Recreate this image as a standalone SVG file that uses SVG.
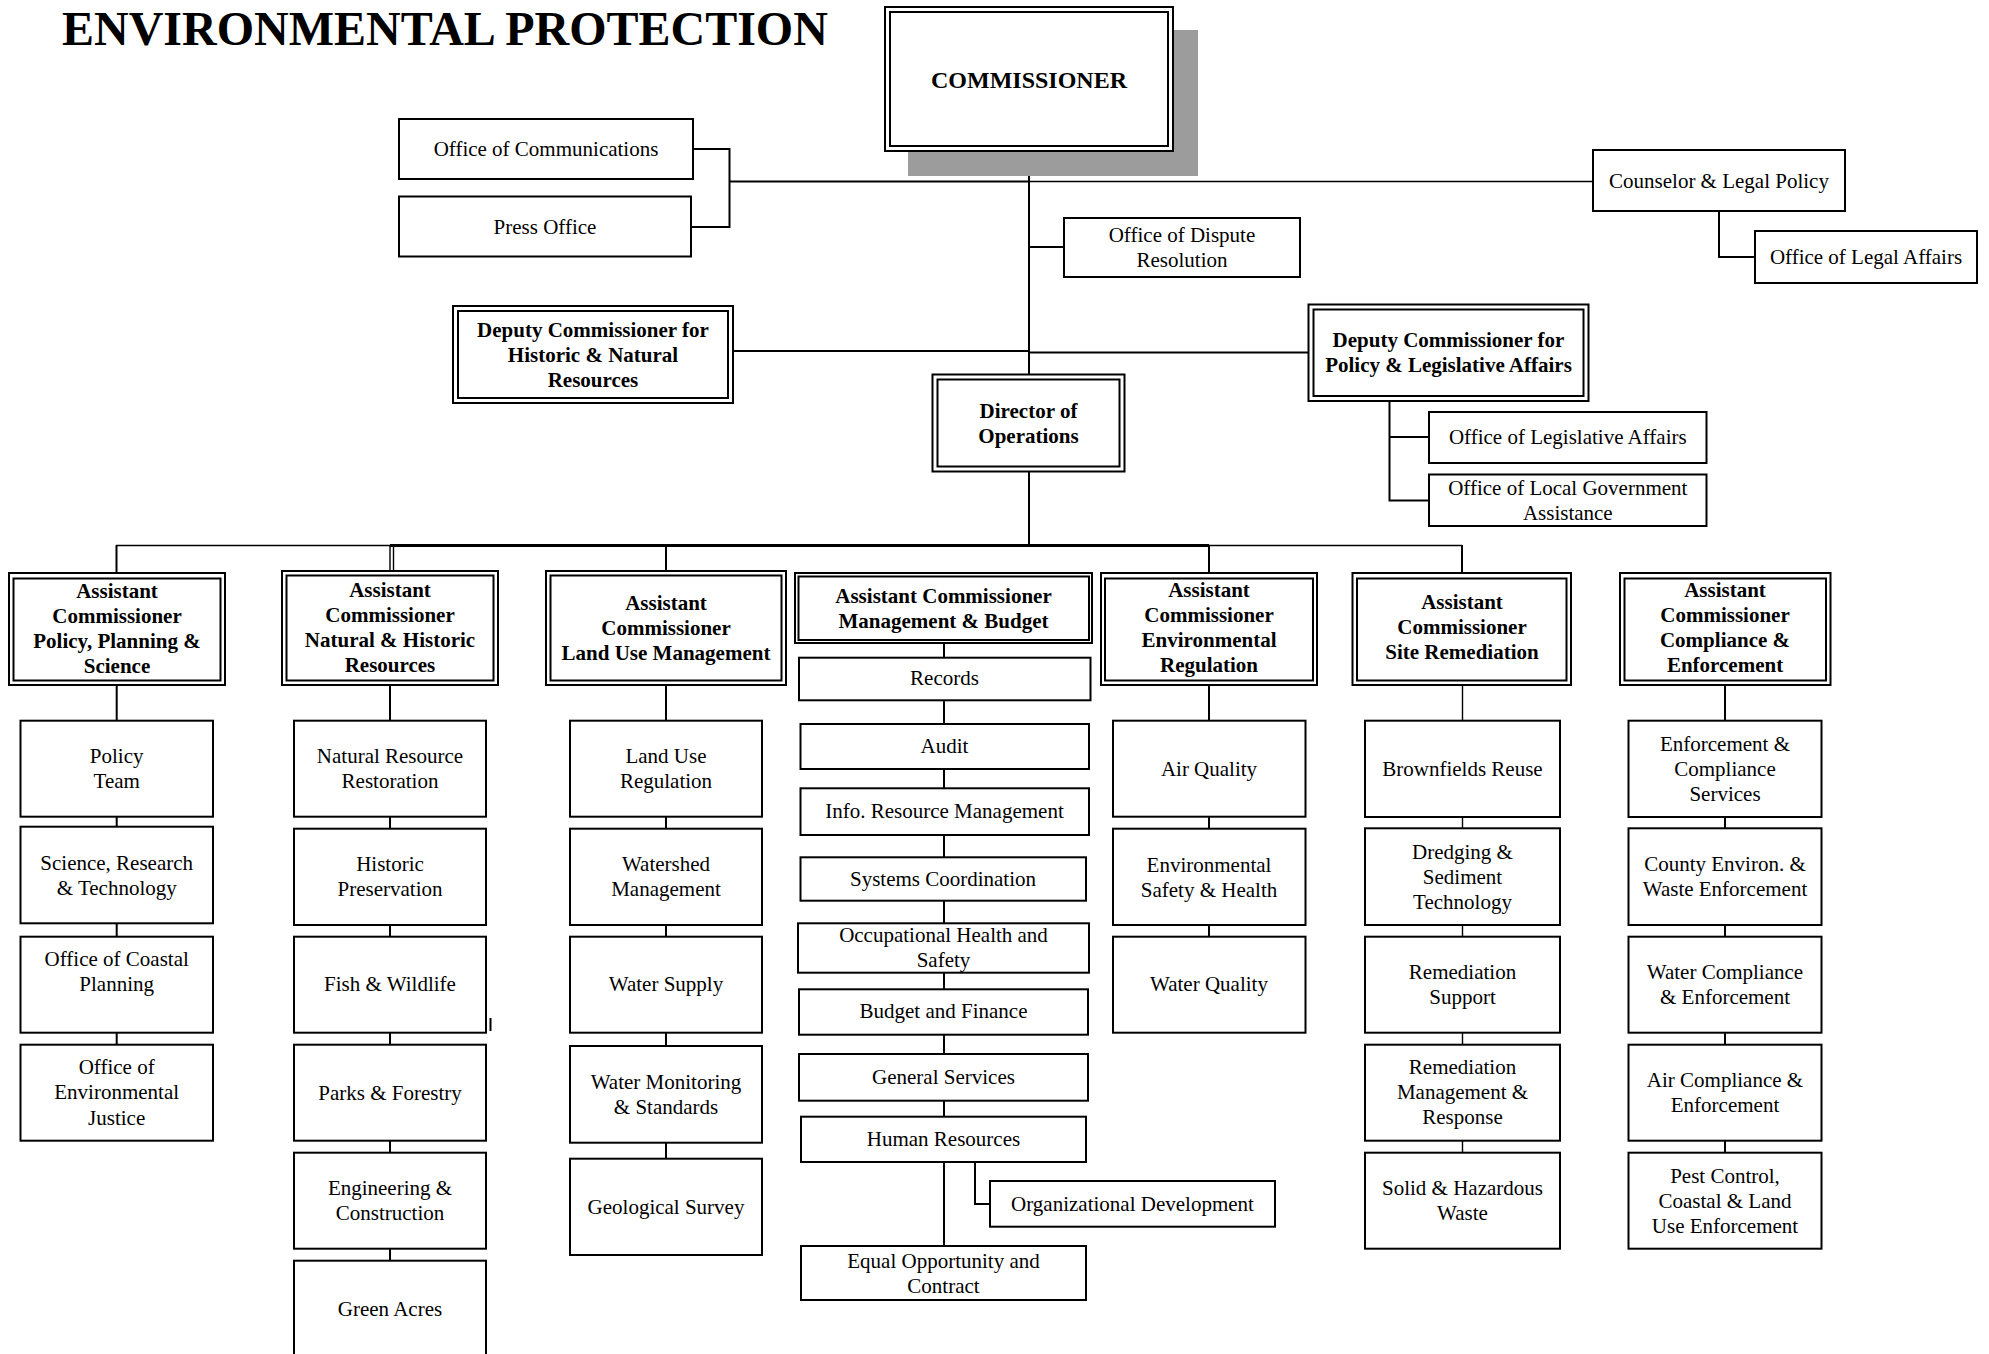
<svg xmlns="http://www.w3.org/2000/svg" width="1989" height="1354" viewBox="0 0 1989 1354">
<style>
.bg{fill:#fff}
.box{fill:#fff;stroke:#000;stroke-width:2}
.ln{fill:none;stroke:#000;stroke-width:2}
.thin{fill:none;stroke:#000;stroke-width:1.4}
.thick{fill:none;stroke:#000;stroke-width:3.2}
.t{font-family:"Liberation Serif","Times New Roman",serif;font-size:21px;text-anchor:middle;fill:#000}
.b{font-weight:bold}
.title{font-family:"Liberation Serif","Times New Roman",serif;font-size:48px;font-weight:bold;fill:#000}
.shadow{fill:#9c9c9c}
</style>
<rect class="bg" x="0" y="0" width="1989" height="1354"/>
<text class="title" x="62" y="45">ENVIRONMENTAL PROTECTION</text>

<g id="connectors">
<path class="ln" d="M693 149 H729.5 V227 H691"/>
<path class="ln" d="M729.5 181.5 H1029"/>
<path class="thin" d="M1029 181.5 H1593"/>
<path class="ln" d="M1029 151 V375"/>
<path class="ln" d="M1029 471 V545.5"/>
<path class="ln" d="M1029 247 H1064"/>
<path class="ln" d="M1719 211 V257 H1755"/>
<path class="ln" d="M733 351 H1029"/>
<path class="ln" d="M1029 352.5 H1308.5"/>
<path class="ln" d="M1389.5 401 V500.5 H1429"/>
<path class="ln" d="M1389.5 437 H1429"/>
<path class="thin" d="M116 545.5 H390"/>
<path class="thick" d="M390 545.5 H1209"/>
<path class="thin" d="M1209 545.5 H1462"/>
<path class="ln" d="M116.5 545 V573"/>
<path class="thin" d="M390 545 V571 M393.5 545 V571"/>
<path class="ln" d="M666 545 V571"/>
<path class="ln" d="M1209 545 V573"/>
<path class="ln" d="M1462 545 V573"/>
<path class="ln" d="M116.7 685 V1044.7"/>
<path class="ln" d="M390 685 V1260.7"/>
<path class="ln" d="M666 685 V1158.7"/>
<path class="ln" d="M944 643 V1246"/>
<path class="ln" d="M975 1162 V1204 H990"/>
<path class="ln" d="M1209 685 V936.7"/>
<path class="thin" d="M1462.5 685 V1152.7"/>
<path class="ln" d="M1725 685 V1152.7"/>
<path class="ln" d="M490.5 1018 V1031"/>
</g>

<g id="commissioner">
<rect class="shadow" x="908" y="30" width="290" height="146"/>
<rect class="box" x="885" y="7" width="288" height="144"/>
<rect class="box" x="890" y="12" width="278" height="134"/>
<text class="t b" x="1029" y="88" style="font-size:24px">COMMISSIONER</text>
</g>

<g id="office-communications">
<rect class="box" x="399" y="119" width="294" height="60"/>
<text class="t" x="546" y="156">Office of Communications</text>
</g>
<g id="press-office">
<rect class="box" x="399" y="196.5" width="292" height="60"/>
<text class="t" x="545" y="234">Press Office</text>
</g>
<g id="counselor">
<rect class="box" x="1593" y="150" width="252" height="61"/>
<text class="t" x="1719" y="187.5">Counselor &amp; Legal Policy</text>
</g>
<g id="legal-affairs">
<rect class="box" x="1755" y="231" width="222" height="52"/>
<text class="t" x="1866" y="264">Office of Legal Affairs</text>
</g>
<g id="dispute-resolution">
<rect class="box" x="1064" y="218" width="236" height="59"/>
<text class="t" x="1182"><tspan x="1182" y="241.5">Office of Dispute</tspan><tspan x="1182" y="266.5">Resolution</tspan></text>
</g>
<g id="deputy-historic">
<rect class="box" x="453" y="306" width="280" height="97"/>
<rect class="box" x="458" y="311" width="270" height="87"/>
<text class="t b"><tspan x="593" y="336.5">Deputy Commissioner for</tspan><tspan x="593" y="361.5">Historic &amp; Natural</tspan><tspan x="593" y="386.5">Resources</tspan></text>
</g>
<g id="deputy-policy">
<rect class="box" x="1308.5" y="304.5" width="280" height="96.5"/>
<rect class="box" x="1313.5" y="309.5" width="270" height="86.5"/>
<text class="t b"><tspan x="1448.5" y="347.3">Deputy Commissioner for</tspan><tspan x="1448.5" y="372.3">Policy &amp; Legislative Affairs</tspan></text>
</g>
<g id="director">
<rect class="box" x="932.5" y="374.5" width="192" height="97"/>
<rect class="box" x="937.5" y="379.5" width="182" height="87"/>
<text class="t b"><tspan x="1028.5" y="417.5">Director of</tspan><tspan x="1028.5" y="442.5">Operations</tspan></text>
</g>
<g id="legislative-affairs">
<rect class="box" x="1429" y="412" width="277.5" height="51"/>
<text class="t" x="1567.8" y="444.4">Office of Legislative Affairs</text>
</g>
<g id="local-government">
<rect class="box" x="1429" y="474.5" width="277.5" height="51.5"/>
<text class="t"><tspan x="1567.8" y="494.8">Office of Local Government</tspan><tspan x="1567.8" y="519.8">Assistance</tspan></text>
</g>

<g id="ac-policy">
<rect class="box" x="9" y="573" width="216" height="112"/>
<rect class="box" x="13.5" y="578.5" width="207" height="102"/>
<text class="t b"><tspan x="117" y="597.5">Assistant</tspan><tspan x="117" y="622.5">Commissioner</tspan><tspan x="117" y="647.5">Policy, Planning &amp;</tspan><tspan x="117" y="672.5">Science</tspan></text>
</g>
<g id="ac-natural">
<rect class="box" x="282" y="571" width="216" height="114"/>
<rect class="box" x="286.5" y="575.5" width="207" height="105"/>
<text class="t b"><tspan x="390" y="596.5">Assistant</tspan><tspan x="390" y="621.5">Commissioner</tspan><tspan x="390" y="646.5">Natural &amp; Historic</tspan><tspan x="390" y="671.5">Resources</tspan></text>
</g>
<g id="ac-landuse">
<rect class="box" x="546" y="571" width="240" height="114"/>
<rect class="box" x="550.5" y="575.5" width="231" height="105"/>
<text class="t b"><tspan x="666" y="610">Assistant</tspan><tspan x="666" y="635">Commissioner</tspan><tspan x="666" y="660">Land Use Management</tspan></text>
</g>
<g id="ac-budget">
<rect class="box" x="795" y="573" width="297" height="70"/>
<rect class="box" x="798.5" y="576.5" width="290.5" height="63.5"/>
<text class="t b"><tspan x="943.5" y="602.5">Assistant Commissioner</tspan><tspan x="943.5" y="627.5">Management &amp; Budget</tspan></text>
</g>
<g id="ac-envreg">
<rect class="box" x="1101" y="573" width="216" height="112"/>
<rect class="box" x="1105" y="578.5" width="208" height="102"/>
<text class="t b"><tspan x="1209" y="597">Assistant</tspan><tspan x="1209" y="622">Commissioner</tspan><tspan x="1209" y="647">Environmental</tspan><tspan x="1209" y="672">Regulation</tspan></text>
</g>
<g id="ac-siterem">
<rect class="box" x="1352.5" y="573" width="218.5" height="112"/>
<rect class="box" x="1357" y="578.5" width="209.5" height="102"/>
<text class="t b"><tspan x="1462" y="609">Assistant</tspan><tspan x="1462" y="634">Commissioner</tspan><tspan x="1462" y="659">Site Remediation</tspan></text>
</g>
<g id="ac-compliance">
<rect class="box" x="1620" y="573" width="210.5" height="112"/>
<rect class="box" x="1624.5" y="578.5" width="201.5" height="102"/>
<text class="t b"><tspan x="1725" y="597">Assistant</tspan><tspan x="1725" y="622">Commissioner</tspan><tspan x="1725" y="647">Compliance &amp;</tspan><tspan x="1725" y="672">Enforcement</tspan></text>
</g>

<g id="policy-team">
<rect class="box" x="20.5" y="720.7" width="192.5" height="96"/>
<text class="t"><tspan x="116.7" y="763">Policy</tspan><tspan x="116.7" y="788">Team</tspan></text>
</g>
<g id="science-research">
<rect class="box" x="20.5" y="826.7" width="192.5" height="96.6"/>
<text class="t"><tspan x="116.7" y="869.5">Science, Research</tspan><tspan x="116.7" y="894.5">&amp; Technology</tspan></text>
</g>
<g id="coastal-planning">
<rect class="box" x="20.5" y="936.7" width="192.5" height="96"/>
<text class="t"><tspan x="116.7" y="966">Office of Coastal</tspan><tspan x="116.7" y="991">Planning</tspan></text>
</g>
<g id="env-justice">
<rect class="box" x="20.5" y="1044.7" width="192.5" height="96"/>
<text class="t"><tspan x="116.7" y="1074">Office of</tspan><tspan x="116.7" y="1099">Environmental</tspan><tspan x="116.7" y="1124.5">Justice</tspan></text>
</g>

<g id="nr-restoration">
<rect class="box" x="294" y="720.7" width="192" height="96"/>
<text class="t"><tspan x="390" y="763">Natural Resource</tspan><tspan x="390" y="788">Restoration</tspan></text>
</g>
<g id="historic-preservation">
<rect class="box" x="294" y="828.7" width="192" height="96.3"/>
<text class="t"><tspan x="390" y="871">Historic</tspan><tspan x="390" y="896">Preservation</tspan></text>
</g>
<g id="fish-wildlife">
<rect class="box" x="294" y="936.7" width="192" height="96"/>
<text class="t" x="390" y="991">Fish &amp; Wildlife</text>
</g>
<g id="parks-forestry">
<rect class="box" x="294" y="1044.7" width="192" height="96"/>
<text class="t" x="390" y="1099.5">Parks &amp; Forestry</text>
</g>
<g id="engineering">
<rect class="box" x="294" y="1152.7" width="192" height="96"/>
<text class="t"><tspan x="390" y="1195">Engineering &amp;</tspan><tspan x="390" y="1220">Construction</tspan></text>
</g>
<g id="green-acres">
<rect class="box" x="294" y="1260.7" width="192" height="96"/>
<text class="t" x="390" y="1315.5">Green Acres</text>
</g>

<g id="land-use-regulation">
<rect class="box" x="570" y="720.7" width="192" height="96"/>
<text class="t"><tspan x="666" y="763">Land Use</tspan><tspan x="666" y="788">Regulation</tspan></text>
</g>
<g id="watershed">
<rect class="box" x="570" y="828.7" width="192" height="96.3"/>
<text class="t"><tspan x="666" y="871">Watershed</tspan><tspan x="666" y="896">Management</tspan></text>
</g>
<g id="water-supply">
<rect class="box" x="570" y="936.7" width="192" height="96"/>
<text class="t" x="666" y="991">Water Supply</text>
</g>
<g id="water-monitoring">
<rect class="box" x="570" y="1046" width="192" height="96.7"/>
<text class="t"><tspan x="666" y="1088.5">Water Monitoring</tspan><tspan x="666" y="1113.5">&amp; Standards</tspan></text>
</g>
<g id="geological-survey">
<rect class="box" x="570" y="1158.7" width="192" height="96.3"/>
<text class="t" x="666" y="1213.5">Geological Survey</text>
</g>

<g id="records">
<rect class="box" x="799" y="657.7" width="291.5" height="42.6"/>
<text class="t" x="944.5" y="685">Records</text>
</g>
<g id="audit">
<rect class="box" x="800.5" y="724" width="288.5" height="45"/>
<text class="t" x="944.5" y="753">Audit</text>
</g>
<g id="info-resource">
<rect class="box" x="800.5" y="788.3" width="288.5" height="46.7"/>
<text class="t" x="944.5" y="818">Info. Resource Management</text>
</g>
<g id="systems-coordination">
<rect class="box" x="800.5" y="857.3" width="285.5" height="43.4"/>
<text class="t" x="943" y="886">Systems Coordination</text>
</g>
<g id="occupational-health">
<rect class="box" x="798" y="923.3" width="291" height="49.4"/>
<text class="t"><tspan x="943.5" y="942">Occupational Health and</tspan><tspan x="943.5" y="967">Safety</tspan></text>
</g>
<g id="budget-finance">
<rect class="box" x="799" y="989.3" width="289" height="45.4"/>
<text class="t" x="943.5" y="1018">Budget and Finance</text>
</g>
<g id="general-services">
<rect class="box" x="799" y="1054" width="289" height="46.7"/>
<text class="t" x="943.5" y="1084">General Services</text>
</g>
<g id="human-resources">
<rect class="box" x="801" y="1116.7" width="285" height="45.3"/>
<text class="t" x="943.5" y="1146">Human Resources</text>
</g>
<g id="org-development">
<rect class="box" x="990" y="1181" width="285" height="45.7"/>
<text class="t" x="1132.5" y="1210.5">Organizational Development</text>
</g>
<g id="equal-opportunity">
<rect class="box" x="801" y="1246" width="285" height="54"/>
<text class="t"><tspan x="943.5" y="1267.5">Equal Opportunity and</tspan><tspan x="943.5" y="1292.5">Contract</tspan></text>
</g>

<g id="air-quality">
<rect class="box" x="1113" y="720.7" width="192.5" height="96"/>
<text class="t" x="1209" y="775.5">Air Quality</text>
</g>
<g id="env-safety">
<rect class="box" x="1113" y="828.7" width="192.5" height="96.3"/>
<text class="t"><tspan x="1209" y="871.5">Environmental</tspan><tspan x="1209" y="896.5">Safety &amp; Health</tspan></text>
</g>
<g id="water-quality">
<rect class="box" x="1113" y="936.7" width="192.5" height="96"/>
<text class="t" x="1209" y="991">Water Quality</text>
</g>

<g id="brownfields">
<rect class="box" x="1365" y="720.7" width="195" height="96.3"/>
<text class="t" x="1462.5" y="775.5">Brownfields Reuse</text>
</g>
<g id="dredging">
<rect class="box" x="1365" y="828.3" width="195" height="96.7"/>
<text class="t"><tspan x="1462.5" y="858.7">Dredging &amp;</tspan><tspan x="1462.5" y="883.7">Sediment</tspan><tspan x="1462.5" y="908.7">Technology</tspan></text>
</g>
<g id="remediation-support">
<rect class="box" x="1365" y="936.7" width="195" height="96"/>
<text class="t"><tspan x="1462.5" y="979">Remediation</tspan><tspan x="1462.5" y="1004">Support</tspan></text>
</g>
<g id="remediation-management">
<rect class="box" x="1365" y="1044.7" width="195" height="96"/>
<text class="t"><tspan x="1462.5" y="1074">Remediation</tspan><tspan x="1462.5" y="1099">Management &amp;</tspan><tspan x="1462.5" y="1124">Response</tspan></text>
</g>
<g id="solid-hazardous">
<rect class="box" x="1365" y="1152.7" width="195" height="96"/>
<text class="t"><tspan x="1462.5" y="1195">Solid &amp; Hazardous</tspan><tspan x="1462.5" y="1220">Waste</tspan></text>
</g>

<g id="enforcement-services">
<rect class="box" x="1628.5" y="720.7" width="193" height="96.3"/>
<text class="t"><tspan x="1725" y="750.5">Enforcement &amp;</tspan><tspan x="1725" y="775.5">Compliance</tspan><tspan x="1725" y="800.5">Services</tspan></text>
</g>
<g id="county-environ">
<rect class="box" x="1628.5" y="828.3" width="193" height="96.7"/>
<text class="t"><tspan x="1725" y="871">County Environ. &amp;</tspan><tspan x="1725" y="896">Waste Enforcement</tspan></text>
</g>
<g id="water-compliance">
<rect class="box" x="1628.5" y="936.7" width="193" height="96"/>
<text class="t"><tspan x="1725" y="979">Water Compliance</tspan><tspan x="1725" y="1004">&amp; Enforcement</tspan></text>
</g>
<g id="air-compliance">
<rect class="box" x="1628.5" y="1044.7" width="193" height="96"/>
<text class="t"><tspan x="1725" y="1087">Air Compliance &amp;</tspan><tspan x="1725" y="1112">Enforcement</tspan></text>
</g>
<g id="pest-control">
<rect class="box" x="1628.5" y="1152.7" width="193" height="96"/>
<text class="t"><tspan x="1725" y="1182.5">Pest Control,</tspan><tspan x="1725" y="1207.5">Coastal &amp; Land</tspan><tspan x="1725" y="1232.5">Use Enforcement</tspan></text>
</g>
</svg>
